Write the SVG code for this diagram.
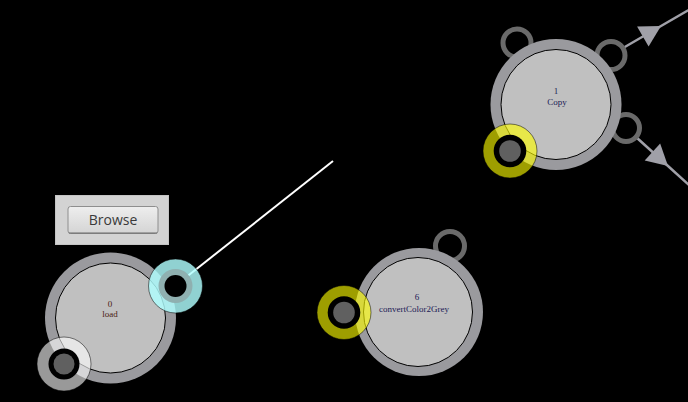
<svg xmlns="http://www.w3.org/2000/svg" width="688" height="402" viewBox="0 0 688 402">
<defs>
<style>
.outer{fill:#9a9a9e}
.inner{fill:#c0c0c0;stroke:#000;stroke-width:1}
.gport{fill:#000;stroke:#6a6a6a;stroke-width:5}
.lbl{font-family:"Liberation Serif","Times New Roman",serif;font-size:9px;text-anchor:middle}
.t0{fill:#4a2010}
.t1{fill:#1a1a55}
.yport{fill:#ffff00;fill-opacity:0.62;stroke:#000;stroke-opacity:0.5;stroke-width:1}
.wport{fill:#ffffff;fill-opacity:0.6;stroke:#000;stroke-opacity:0.5;stroke-width:1}
.cport{fill:#b0ffff;fill-opacity:0.82;stroke:#000;stroke-opacity:0.5;stroke-width:1}
.blk{fill:#000}
.core{fill:#606060}
.arrow{fill:none;stroke:#a0a0a8;stroke-width:2.5}
</style>
<linearGradient id="btn" x1="0" y1="0" x2="0" y2="1">
<stop offset="0" stop-color="#eeeeee"/>
<stop offset="1" stop-color="#d4d4d4"/>
</linearGradient>
<marker id="ah" markerUnits="userSpaceOnUse" viewBox="-22 -12 24 24" refX="0" refY="0" markerWidth="24" markerHeight="24" orient="auto" overflow="visible">
<path d="M0,0 L-21,-11.5 L-21,11.5 Z" fill="#a0a0a8"/>
</marker>
</defs>
<rect width="688" height="402" fill="#000"/>
<g id="connectors">
<line x1="175" y1="286" x2="333" y2="161" stroke="#fff" stroke-width="2"/>
<polyline class="arrow" points="611,55 661,26 700,3.4" marker-mid="url(#ah)"/>
<polyline class="arrow" points="626,128 668,166 700,195" marker-mid="url(#ah)"/>
</g>
<g id="browse">
<rect x="55.5" y="195.5" width="113" height="49" fill="#d3d3d3" stroke="#c4c4c4"/>
<rect x="68" y="206.5" width="90" height="27" rx="2.5" fill="url(#btn)" stroke="#8e8e8e"/>
<line x1="69" y1="233" x2="157" y2="233" stroke="#6a6a6a" stroke-width="1"/>
<text x="113" y="225" font-family="'Open Sans','DejaVu Sans',sans-serif" font-size="14" fill="#3a3a3a" text-anchor="middle">Browse</text>
</g>
<g id="node0">
<circle class="outer" cx="110.5" cy="318" r="65.5"/>
<circle class="inner" cx="110.5" cy="318" r="55"/>
<text class="lbl t0" x="110" y="306.5">0</text>
<text class="lbl t0" x="110" y="317">load</text>
<circle class="cport" cx="175.5" cy="286" r="27"/>
<circle fill="#8fb0b0" cx="175.5" cy="286" r="17"/>
<circle class="blk" cx="175.5" cy="286" r="11"/>
<circle class="wport" cx="64" cy="364" r="27"/>
<circle class="blk" cx="64" cy="364" r="15.5"/>
<circle class="core" cx="64" cy="364" r="10.5"/>
</g>
<g id="node6">
<circle class="gport" cx="450" cy="246" r="14.5"/>
<circle class="outer" cx="419" cy="312" r="64"/>
<circle class="inner" cx="418" cy="312" r="54.5"/>
<text class="lbl t1" x="417" y="300">6</text>
<text class="lbl t1" x="414" y="311.5">convertColor2Grey</text>
<circle class="yport" cx="344" cy="312.5" r="27"/>
<circle class="blk" cx="344" cy="312.5" r="16.3"/>
<circle class="core" cx="344" cy="312.5" r="10.8"/>
</g>
<g id="node1">
<circle class="gport" cx="517" cy="43" r="14"/>
<circle class="gport" cx="611" cy="55.5" r="14"/>
<circle class="gport" cx="626" cy="128" r="13.5"/>
<circle class="outer" cx="556" cy="104.5" r="65.5"/>
<circle class="inner" cx="556" cy="104.5" r="55"/>
<text class="lbl t1" x="556" y="94">1</text>
<text class="lbl t1" x="557" y="105">Copy</text>
<circle class="yport" cx="510" cy="151" r="27"/>
<circle class="blk" cx="510" cy="151" r="16.3"/>
<circle class="core" cx="510" cy="151" r="10.8"/>
</g>
</svg>
